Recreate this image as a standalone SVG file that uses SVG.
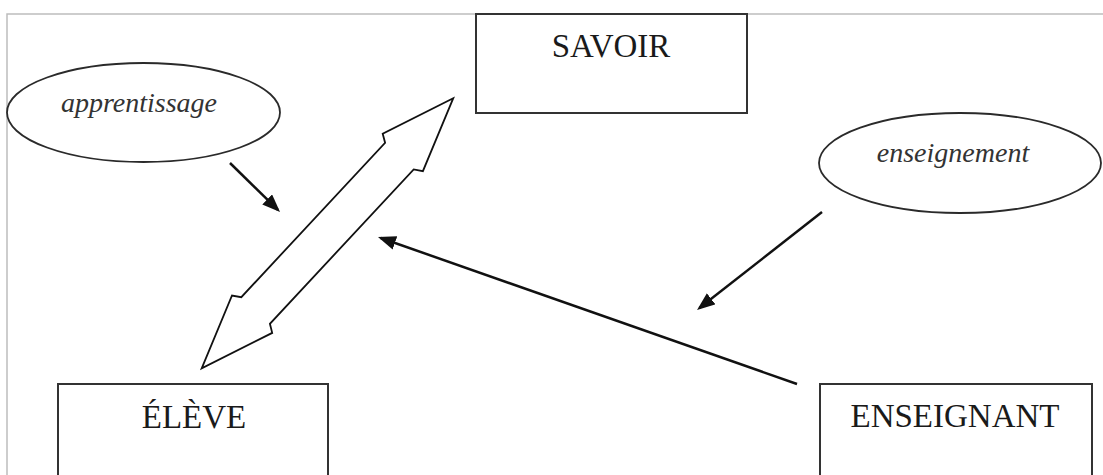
<svg xmlns="http://www.w3.org/2000/svg" width="1103" height="475" viewBox="0 0 1103 475">
<style>
.frame{stroke:#bdbdbd;stroke-width:1.5;fill:none}
.box{fill:#fff;stroke:#333;stroke-width:2}
.oval{fill:#fff;stroke:#2a2a2a;stroke-width:1.8}
.lbl{font-family:"Liberation Serif","Times New Roman",serif;font-size:33px;fill:#1a1a1a;text-anchor:middle}
.ital{font-family:"Liberation Serif","Times New Roman",serif;font-style:italic;font-size:28px;fill:#333;text-anchor:middle}
.conn{stroke:#111;stroke-width:2.5;fill:none;marker-end:url(#ah)}
.dbl{fill:#fff;stroke:#111;stroke-width:1.8;stroke-linejoin:miter}
</style>
<defs>
<marker id="ah" markerUnits="userSpaceOnUse" markerWidth="20" markerHeight="16" refX="15" refY="7" orient="auto">
<path d="M0,0 L18,7 L0,14 Z" fill="#111"/>
</marker>
</defs>
<rect width="1103" height="475" fill="#fff"/>
<path class="frame" d="M7,475 V14 H1103"/>
<g id="savoir">
<rect class="box" x="476" y="14" width="271" height="99"/>
<text class="lbl" x="611" y="57">SAVOIR</text>
</g>
<g id="eleve">
<rect class="box" x="58" y="384" width="270" height="100"/>
<text class="lbl" x="194" y="428">ÉLÈVE</text>
</g>
<g id="enseignant">
<rect class="box" x="820" y="384" width="272" height="100"/>
<text class="lbl" x="955" y="427">ENSEIGNANT</text>
</g>
<g id="apprentissage">
<ellipse class="oval" cx="143.5" cy="112.5" rx="136.5" ry="49.5"/>
<text class="ital" x="139" y="112">apprentissage</text>
</g>
<g id="enseignement">
<ellipse class="oval" cx="960" cy="163" rx="141" ry="50"/>
<text class="ital" x="953" y="162">enseignement</text>
</g>
<g id="connectors">
<polygon class="dbl" points="453.2,98.3 382.7,133.8 385.1,142.8 241.3,297.2 232.0,295.5 201.7,368.3 272.2,332.9 269.9,323.8 413.7,169.4 422.9,171.2"/>
<line class="conn" x1="230" y1="163" x2="277.9" y2="209.9"/>
<line class="conn" x1="822" y1="212" x2="699.4" y2="308.1"/>
<line class="conn" x1="797" y1="384" x2="380.8" y2="238"/>
</g>
</svg>
